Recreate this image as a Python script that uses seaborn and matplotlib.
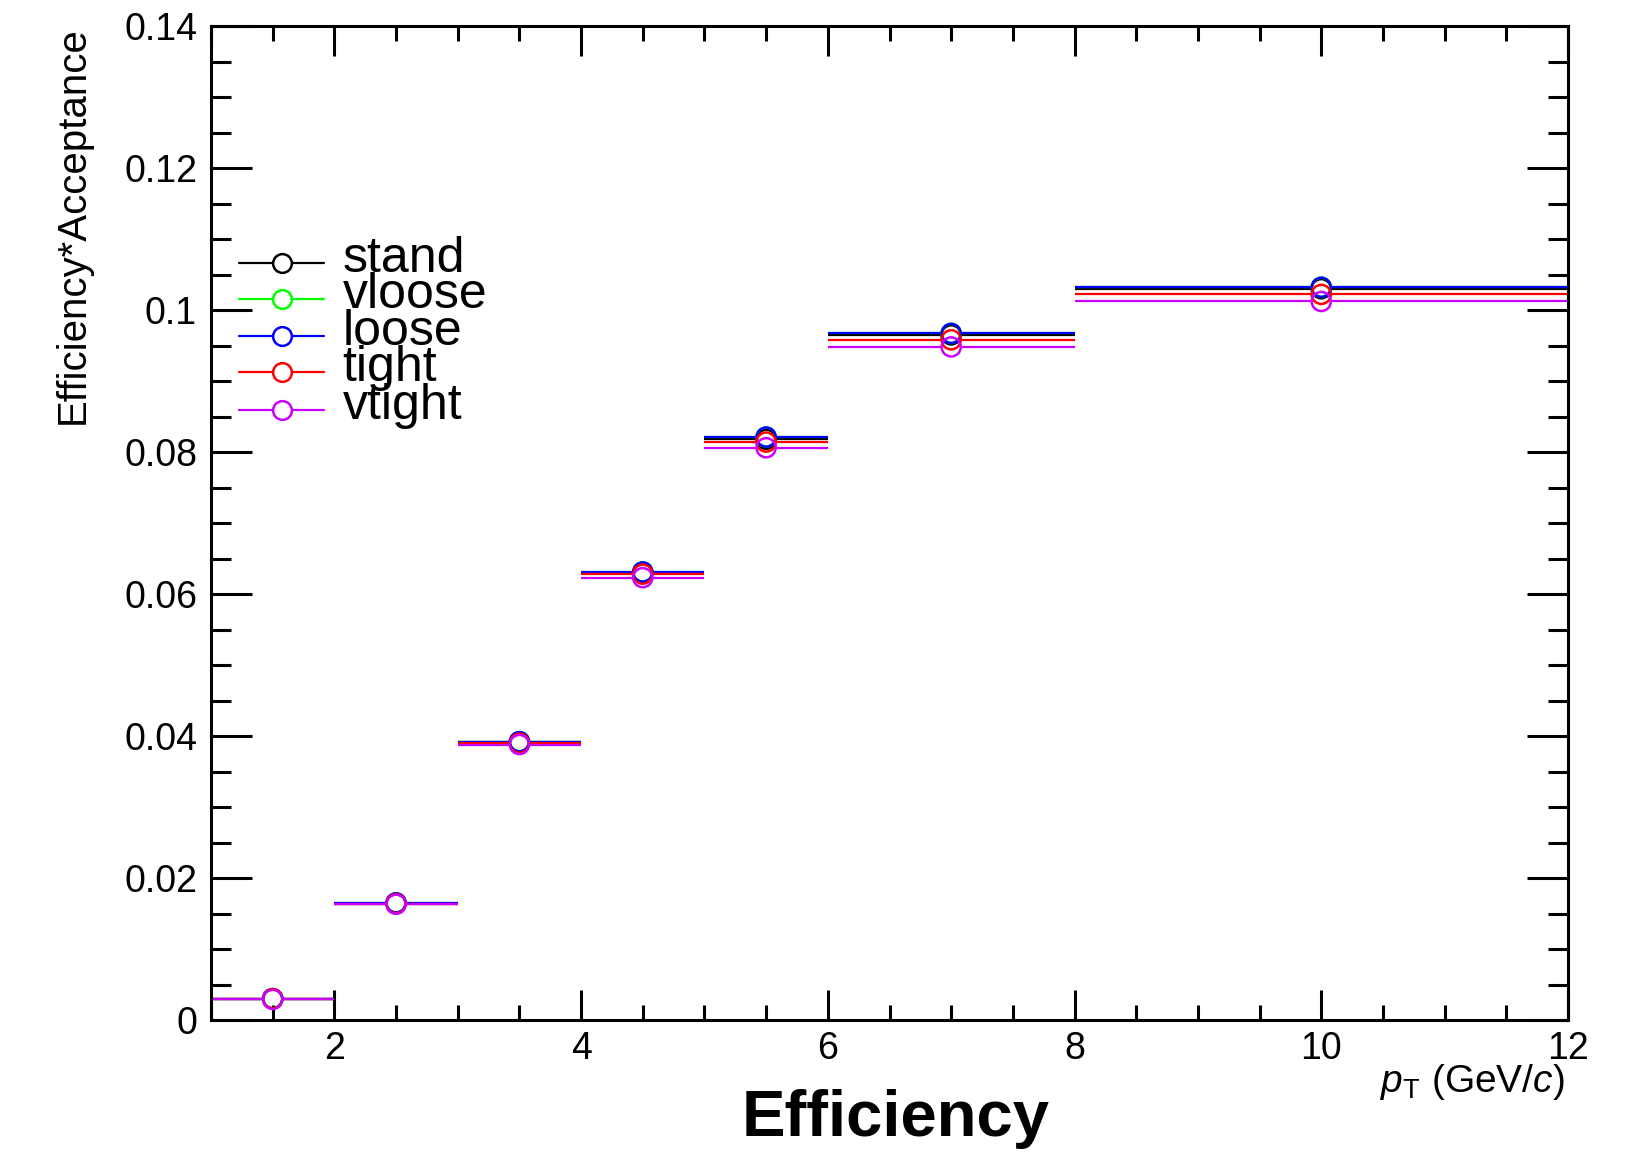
import numpy as np
import pandas as pd
import matplotlib
matplotlib.use("Agg")
import matplotlib.pyplot as plt
from matplotlib.ticker import MultipleLocator, FuncFormatter
import seaborn as sns

# ---------------- data ----------------
bin_edges = [1, 2, 3, 4, 5, 6, 8, 12]
series_names = ["stand", "vloose", "loose", "tight", "vtight"]
stand  = [0.0030, 0.0164, 0.0391, 0.0630, 0.0818, 0.0965, 0.1030]
vloose = [0.0030, 0.0165, 0.0392, 0.0631, 0.0821, 0.0967, 0.1032]
loose  = [0.0030, 0.0165, 0.0392, 0.0631, 0.0821, 0.0967, 0.1032]
tight  = [0.0030, 0.0164, 0.0390, 0.0628, 0.0814, 0.0958, 0.1022]
vtight = [0.0029, 0.0163, 0.0388, 0.0623, 0.0806, 0.0948, 0.1012]
series_colors = ["#000000", "#00ff00", "#0000ff", "#ff0000", "#cc00ff"]

x_ticks = [2, 4, 6, 8, 10, 12]
y_ticks = [0, 0.02, 0.04, 0.06, 0.08, 0.10, 0.12, 0.14]

lo = np.array(bin_edges[:-1], dtype=float)
hi = np.array(bin_edges[1:], dtype=float)
centers = (lo + hi) / 2

values = {"stand": stand, "vloose": vloose, "loose": loose, "tight": tight, "vtight": vtight}
rows = []
for name in series_names:
    for c, l, h, v in zip(centers, lo, hi, values[name]):
        rows.append({"series": name, "pt": c, "lo": l, "hi": h, "eff": v})
df = pd.DataFrame(rows)

# ---------------- style ----------------
sns.set_style("ticks")
plt.rcParams["font.family"] = ["Liberation Sans", "DejaVu Sans"]
plt.rcParams["mathtext.fontset"] = "custom"
plt.rcParams["mathtext.rm"] = "Liberation Sans"
plt.rcParams["mathtext.it"] = "Liberation Sans:italic"
for key in ["text.color", "axes.labelcolor", "xtick.color", "ytick.color", "axes.edgecolor"]:
    plt.rcParams[key] = "black"

W, H = 1630, 1152
fig = plt.figure(figsize=(W / 100, H / 100), dpi=100)
L, R, T, B = 211, 1568, 26, 1020
ax = fig.add_axes([L / W, 1 - B / H, (R - L) / W, (B - T) / H])

px_per_x = (R - L) / 11.0
gap = 10.0 / px_per_x  # half-width of marker gap in data units

palette = dict(zip(series_names, series_colors))
for name in series_names:
    sub = df[df.series == name]
    col = palette[name]
    ax.hlines(sub["eff"], sub["lo"], sub["pt"] - gap, colors=col, lw=1.6, zorder=2)
    ax.hlines(sub["eff"], sub["pt"] + gap, sub["hi"], colors=col, lw=1.6, zorder=2)
    sns.scatterplot(data=sub, x="pt", y="eff", ax=ax, marker="o", s=190,
                    facecolors="none", edgecolor=col, linewidth=1.8, zorder=3,
                    legend=False)

ax.set_xlim(1, 12)
ax.set_ylim(0, 0.14)
ax.set_xticks(x_ticks)
ax.set_yticks(y_ticks)
ax.xaxis.set_minor_locator(MultipleLocator(0.5))
ax.yaxis.set_minor_locator(MultipleLocator(0.005))
ax.yaxis.set_major_formatter(FuncFormatter(lambda v, p: "%g" % round(v, 4)))
ax.xaxis.set_major_formatter(FuncFormatter(lambda v, p: "%g" % v))
ax.set_xlabel("")
ax.set_ylabel("")

for sp in ax.spines.values():
    sp.set_linewidth(2.2)
    sp.set_color("black")
    sp.set_visible(True)

ax.tick_params(axis="both", which="both", direction="in", top=True, right=True,
               width=2.2, color="black", labelcolor="black")
ax.tick_params(axis="y", which="major", length=29.5, labelsize=27, pad=10)
ax.tick_params(axis="y", which="minor", length=14.5)
ax.tick_params(axis="x", which="major", length=21.5, labelsize=27, pad=8)
ax.tick_params(axis="x", which="minor", length=10.5)

# manual ROOT-like legend (overlapping rows as in the reference)
leg_y = [0.762, 0.725, 0.688, 0.652, 0.614]
for name, yy in zip(series_names, leg_y):
    col = palette[name]
    ax.plot([0.021, 0.083], [yy, yy], transform=ax.transAxes, color=col, lw=1.6, zorder=4)
    ax.plot([0.052], [yy], transform=ax.transAxes, marker="o", ms=13.5, mfc="white",
            mec=col, mew=1.8, lw=0, zorder=5)
    ax.text(0.097, yy + 0.004, name, transform=ax.transAxes, fontsize=36,
            ha="left", va="center", zorder=6, color="black")

fig.text(73 / W, 1 - T / H, "Efficiency*Acceptance", rotation=90,
         ha="center", va="top", fontsize=29, color="black")
fig.text(1565 / W, 1 - 1092 / H, r"$p_{\mathrm{T}}$ (GeV/$c$)", ha="right",
         va="baseline", fontsize=28, color="black")
fig.text(896 / W, 1 - 1136 / H, "Efficiency", ha="center", va="baseline",
         fontsize=47, fontweight="bold", color="black")

fig.savefig("out.png", dpi=100)
